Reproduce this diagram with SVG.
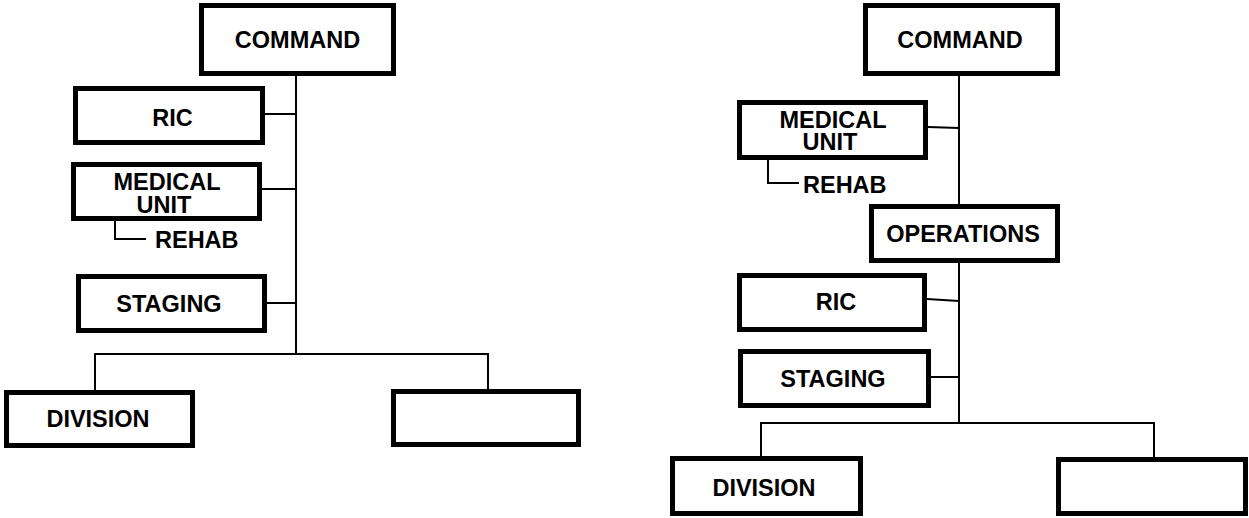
<svg xmlns="http://www.w3.org/2000/svg" width="1249" height="518" viewBox="0 0 1249 518">
  <style>
    .box { fill: #fff; stroke: #000; stroke-width: 5; }
    .lbl { font-family: "Liberation Sans", Arial, sans-serif; font-weight: bold; font-size: 23.5px; fill: #000; text-anchor: middle; }
    .sub { font-family: "Liberation Sans", Arial, sans-serif; font-weight: bold; font-size: 23.5px; fill: #000; }
    .wire { fill: none; stroke: #000; stroke-width: 2; }
  </style>
  <rect width="1249" height="518" fill="#fff"/>

  <!-- connectors -->
  <g id="connectors" class="wire">
    <!-- left chart -->
    <line x1="296" y1="76" x2="296" y2="355"/>
    <line x1="265" y1="114" x2="296" y2="114"/>
    <line x1="262" y1="189" x2="296" y2="189"/>
    <line x1="267" y1="303" x2="296" y2="303"/>
    <line x1="95" y1="354" x2="488" y2="354"/>
    <line x1="95" y1="353" x2="95" y2="390"/>
    <line x1="488" y1="353" x2="488" y2="390"/>
    <polyline points="115,221 115,239 146,239"/>
    <!-- right chart -->
    <line x1="959" y1="76" x2="959" y2="204"/>
    <line x1="959" y1="263" x2="959" y2="424"/>
    <line x1="928" y1="127" x2="959" y2="128"/>
    <polyline points="768,160 768,183 799,183"/>
    <line x1="927" y1="299" x2="959" y2="301"/>
    <line x1="931" y1="377" x2="959" y2="377"/>
    <line x1="761" y1="423" x2="1154" y2="423"/>
    <line x1="761" y1="422" x2="761" y2="457"/>
    <line x1="1154" y1="422" x2="1154" y2="457"/>
  </g>

  <!-- left chart nodes -->
  <g id="l-command">
    <rect class="box" x="201.5" y="5.5" width="192" height="68"/>
    <text class="lbl" x="297.5" y="48">COMMAND</text>
  </g>
  <g id="l-ric">
    <rect class="box" x="75.5" y="88.5" width="187" height="54"/>
    <text class="lbl" x="172.5" y="126">RIC</text>
  </g>
  <g id="l-medical">
    <rect class="box" x="73.5" y="164.5" width="186" height="54"/>
    <text class="lbl" x="167" y="190">MEDICAL</text>
    <text class="lbl" x="164" y="213">UNIT</text>
  </g>
  <g id="l-rehab">
    <text class="sub" x="155" y="248">REHAB</text>
  </g>
  <g id="l-staging">
    <rect class="box" x="78.5" y="276.5" width="186" height="54"/>
    <text class="lbl" x="169" y="312">STAGING</text>
  </g>
  <g id="l-division">
    <rect class="box" x="6.5" y="392.5" width="186" height="53"/>
    <text class="lbl" x="98" y="427">DIVISION</text>
  </g>
  <g id="l-blank">
    <rect class="box" x="393.5" y="391.5" width="185" height="53"/>
  </g>

  <!-- right chart nodes -->
  <g id="r-command">
    <rect class="box" x="865.5" y="5.5" width="192" height="68"/>
    <text class="lbl" x="960" y="48">COMMAND</text>
  </g>
  <g id="r-medical">
    <rect class="box" x="739.5" y="102.5" width="186" height="55"/>
    <text class="lbl" x="833" y="128">MEDICAL</text>
    <text class="lbl" x="830" y="150">UNIT</text>
  </g>
  <g id="r-rehab">
    <text class="sub" x="803" y="193">REHAB</text>
  </g>
  <g id="r-operations">
    <rect class="box" x="871.5" y="206.5" width="186" height="54"/>
    <text class="lbl" x="963" y="242">OPERATIONS</text>
  </g>
  <g id="r-ric">
    <rect class="box" x="739.5" y="275.5" width="185" height="54"/>
    <text class="lbl" x="836" y="310">RIC</text>
  </g>
  <g id="r-staging">
    <rect class="box" x="740.5" y="351.5" width="188" height="54"/>
    <text class="lbl" x="833" y="387">STAGING</text>
  </g>
  <g id="r-division">
    <rect class="box" x="672.5" y="458.5" width="188" height="55"/>
    <text class="lbl" x="764" y="496">DIVISION</text>
  </g>
  <g id="r-blank">
    <rect class="box" x="1058.5" y="459.5" width="187" height="54"/>
  </g>
</svg>
